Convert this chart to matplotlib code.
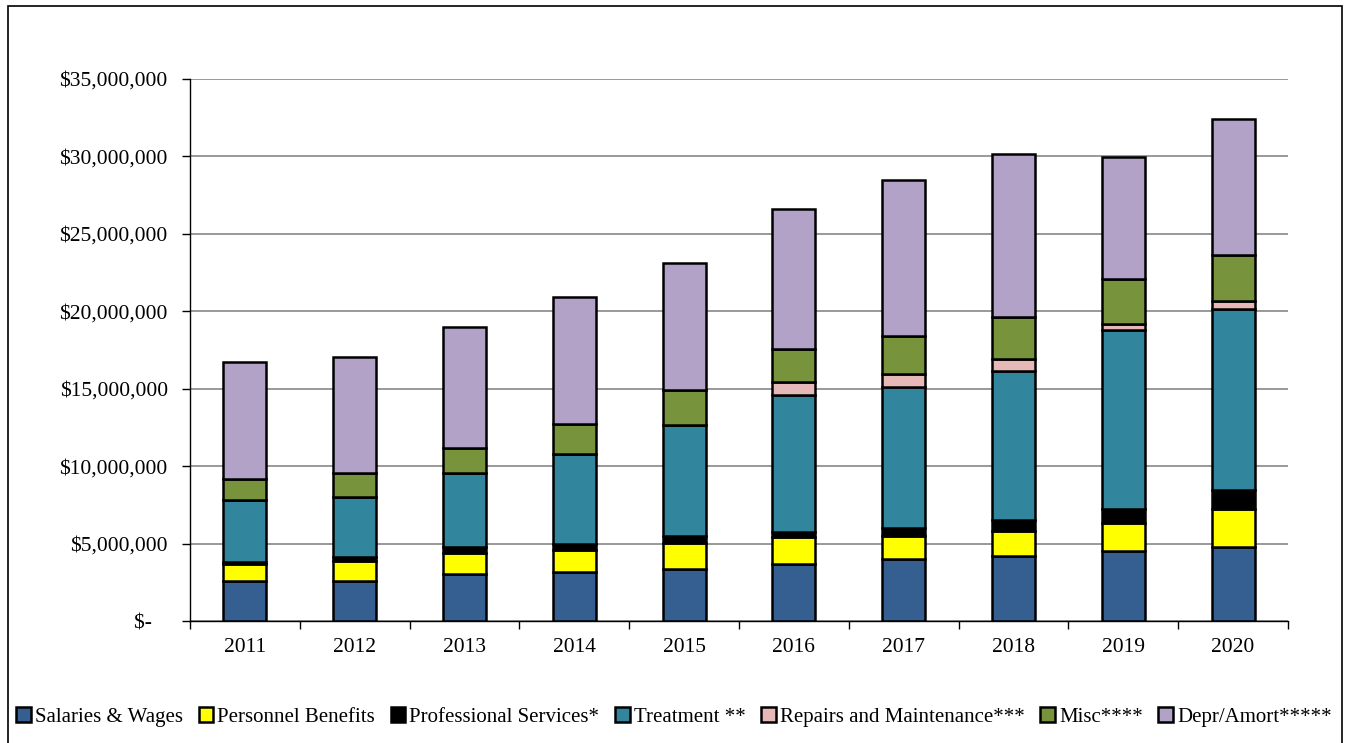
import numpy as np
import matplotlib.pyplot as plt
from matplotlib.patches import Rectangle

plt.rcParams['font.family'] = ['Liberation Serif', 'DejaVu Serif']

years = ['2011', '2012', '2013', '2014', '2015', '2016', '2017', '2018', '2019', '2020']

# values in millions of dollars
salaries = [2.56, 2.56, 3.04, 3.16, 3.38, 3.68, 3.98, 4.20, 4.52, 4.80]
benefits = [1.10, 1.31, 1.33, 1.42, 1.64, 1.72, 1.51, 1.59, 1.79, 2.41]
professional = [0.13, 0.26, 0.39, 0.37, 0.47, 0.35, 0.49, 0.71, 0.90, 1.25]
treatment = [4.00, 3.88, 4.78, 5.81, 7.15, 8.82, 9.11, 9.62, 11.58, 11.69]
repairs = [0.00, 0.00, 0.00, 0.00, 0.00, 0.84, 0.84, 0.82, 0.41, 0.51]
misc = [1.36, 1.53, 1.65, 1.96, 2.28, 2.17, 2.47, 2.69, 2.90, 3.00]
depr = [7.59, 7.53, 7.79, 8.18, 8.20, 9.02, 10.08, 10.51, 7.84, 8.76]

series = [
    ('Salaries & Wages', salaries, '#365F91'),
    ('Personnel Benefits', benefits, '#FFFF00'),
    ('Professional Services*', professional, '#000000'),
    ('Treatment **', treatment, '#31859C'),
    ('Repairs and Maintenance***', repairs, '#E6B9B8'),
    ('Misc****', misc, '#77933C'),
    ('Depr/Amort*****', depr, '#B3A2C7'),
]

fig = plt.figure(figsize=(13.48, 7.43), dpi=100)
ax = fig.add_axes([190 / 1348, 122 / 743, 1098 / 1348, 542 / 743])

x = np.arange(len(years))
bottom = np.zeros(len(years))
for name, vals, color in series:
    vals = np.array(vals) * 1e6
    ax.bar(x, vals, 0.39, bottom=bottom, color=color, edgecolor='black',
           linewidth=1.8, label=name, zorder=3)
    bottom += vals

ax.set_xlim(-0.5, 9.5)
ax.set_ylim(0, 35e6)
yt = np.arange(0, 35e6 + 1, 5e6)
ax.set_yticks(yt)
ax.set_yticklabels(['$-   '] + ['${:,.0f}'.format(v) for v in yt[1:]], fontsize=15.5)
ax.set_xticks(x)
ax.set_xticklabels(years, fontsize=15.5)
ax.set_xticks(np.arange(-0.5, 10, 1), minor=True)
ax.tick_params(axis='x', which='major', length=0, pad=12)
ax.tick_params(axis='x', which='minor', length=6, width=1, direction='out')
ax.tick_params(axis='y', length=6, width=1, direction='out', pad=10)
ax.grid(axis='y', color='#888888', linewidth=1.2, zorder=0)
ax.spines['top'].set_visible(False)
ax.spines['right'].set_visible(False)
ax.spines['left'].set_linewidth(1)
ax.spines['bottom'].set_linewidth(1)

fig.legend(loc='center', bbox_to_anchor=(0.5, 26 / 743), ncol=7, frameon=False,
           fontsize=15, handlelength=0.7, handleheight=0.7, handletextpad=0.2,
           columnspacing=0.75, borderpad=0.2)

fig.patches.append(Rectangle((8 / 1348, -0.01), 1334 / 1348, 0.992 + 0.01, transform=fig.transFigure,
                             fill=False, edgecolor='black', linewidth=1.2))

fig.savefig('out.png', dpi=100)
